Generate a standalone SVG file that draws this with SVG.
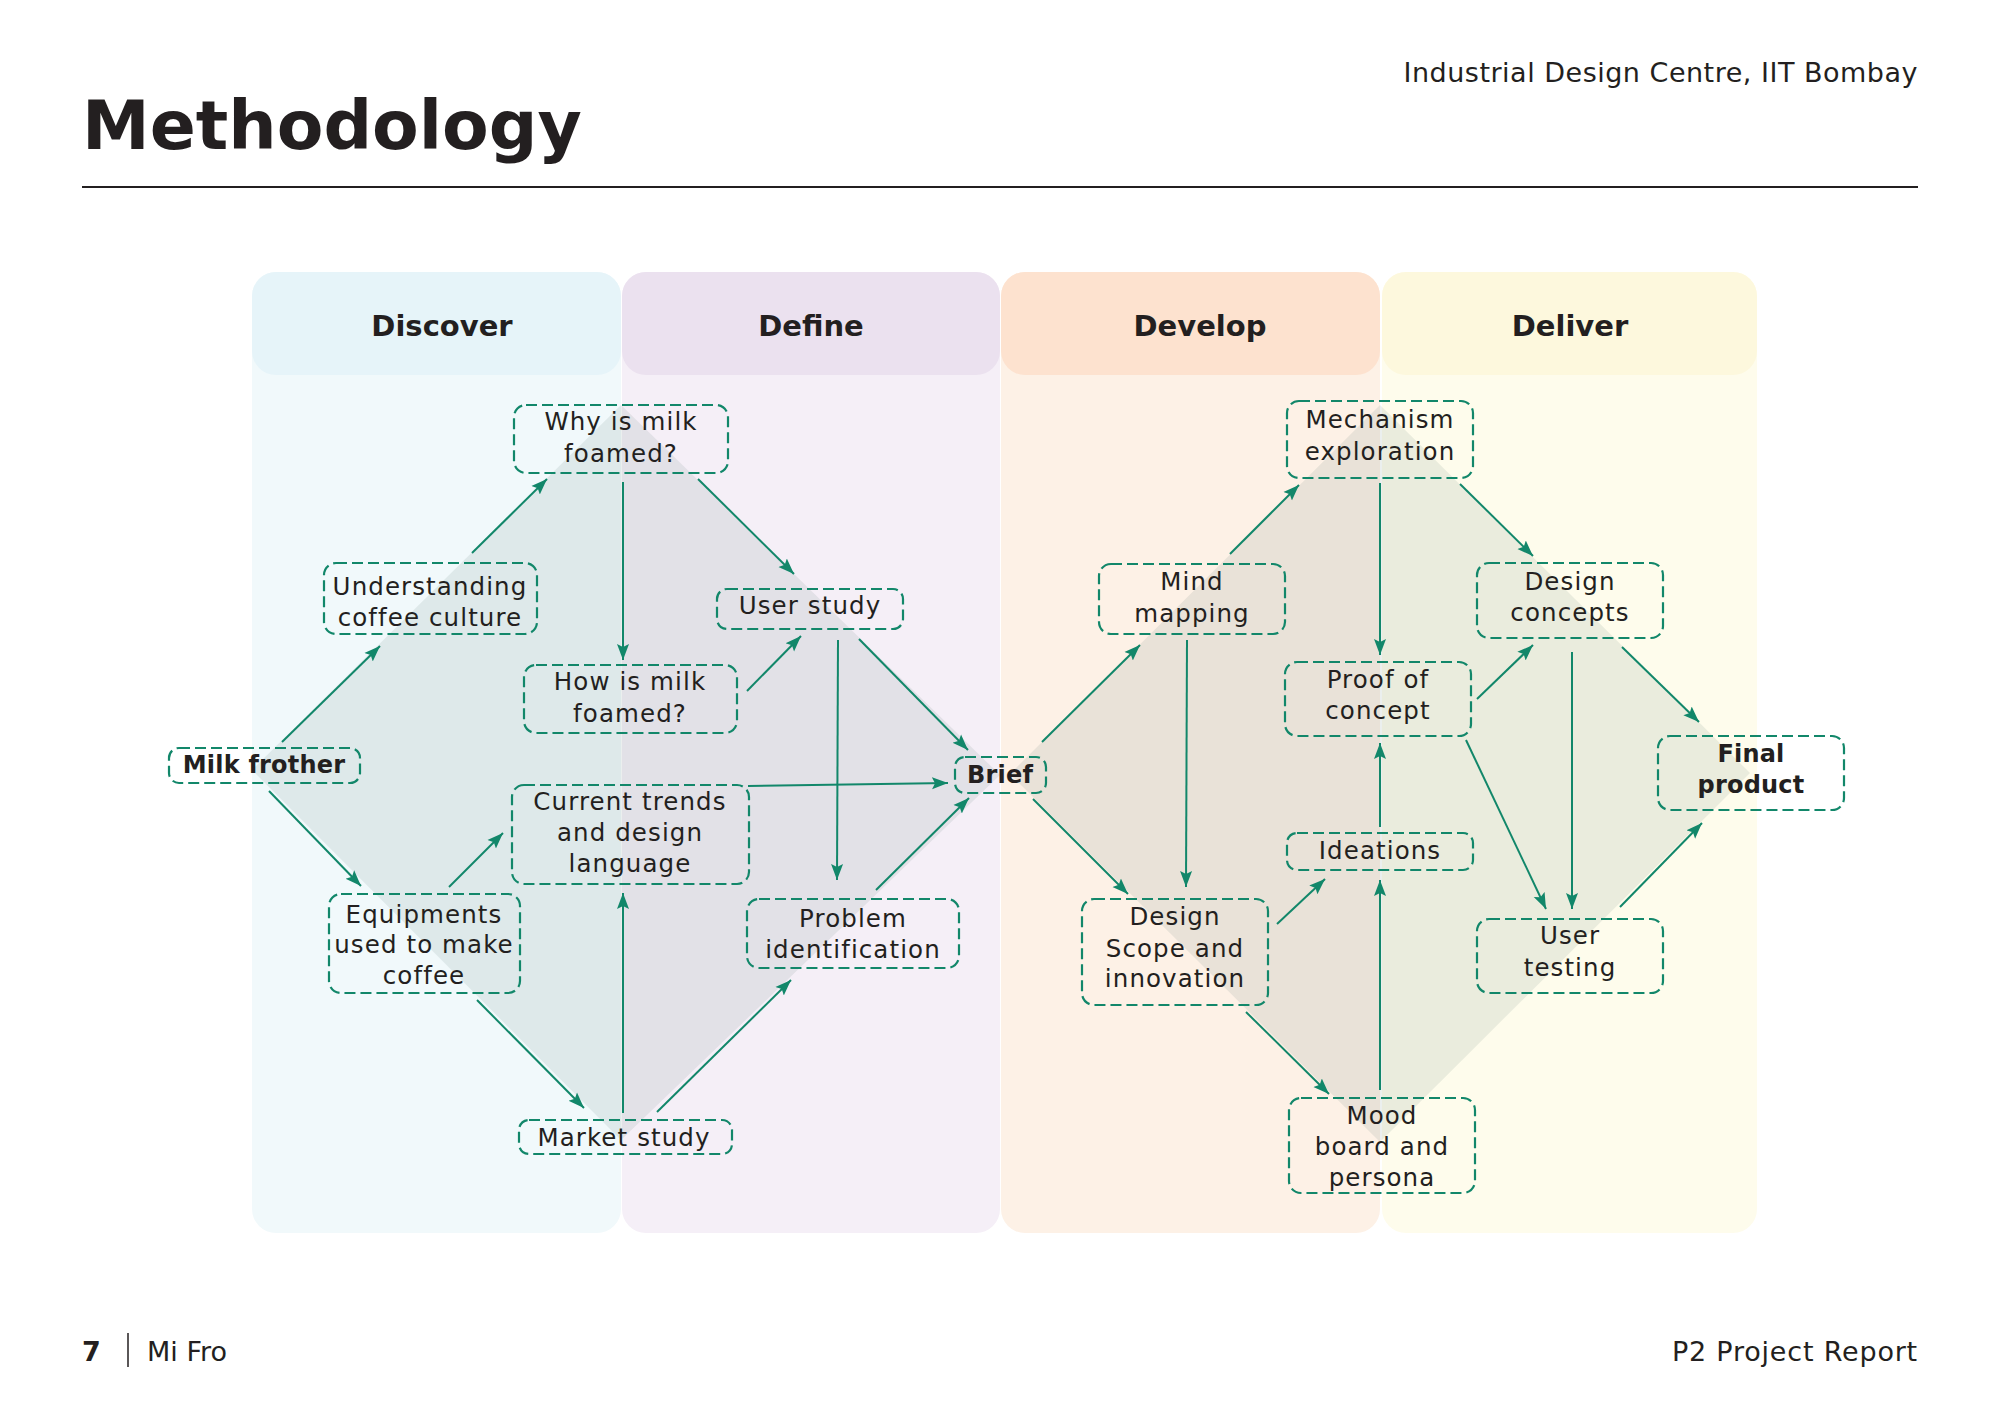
<svg xmlns="http://www.w3.org/2000/svg" width="2000" height="1414" viewBox="0 0 2000 1414">
<style>
.t{font-family:"DejaVu Sans","Liberation Sans",sans-serif;fill:#231f20}
.lbl{font-size:24.5px;letter-spacing:1.1px;text-anchor:middle}
.b{font-weight:bold;font-size:24px;letter-spacing:0.2px;text-anchor:middle}
.hd{font-weight:bold;font-size:29px;text-anchor:middle}
.box{fill:none;stroke:#12876a;stroke-width:2.2;stroke-dasharray:11 5}
.conn line{stroke:#12876a;stroke-width:2;marker-end:url(#arr)}
.shade{fill:#64827a;fill-opacity:0.13}
</style>
<defs>
<marker id="arr" markerUnits="userSpaceOnUse" markerWidth="18" markerHeight="14" refX="16" refY="6.5" orient="auto">
<path d="M0,0.5 L16,6.5 L0,12.5 L3,6.5 z" fill="#12876a"/>
</marker>
</defs>
<rect x="0" y="0" width="2000" height="1414" fill="#ffffff"/>

<!-- page header -->
<text class="t" x="82" y="149" font-size="68" font-weight="bold">Methodology</text>
<text class="t" x="1918" y="82" font-size="27" letter-spacing="0.5" text-anchor="end">Industrial Design Centre, IIT Bombay</text>
<line x1="82" y1="187" x2="1918" y2="187" stroke="#231f20" stroke-width="2"/>

<!-- columns -->
<g id="col-discover">
<rect x="252" y="272" width="369" height="961" rx="24" fill="#f1f9fb"/>
<rect x="252" y="272" width="369" height="103" rx="24" fill="#e6f4f9"/>
<text class="t hd" x="442" y="336">Discover</text>
</g>
<g id="col-define">
<rect x="622" y="272" width="378" height="961" rx="24" fill="#f5eff7"/>
<rect x="622" y="272" width="378" height="103" rx="24" fill="#ebe1ef"/>
<text class="t hd" x="811" y="336">Define</text>
</g>
<g id="col-develop">
<rect x="1001" y="272" width="379" height="961" rx="24" fill="#fdf1e6"/>
<rect x="1001" y="272" width="379" height="103" rx="24" fill="#fde2cf"/>
<text class="t hd" x="1200" y="336">Develop</text>
</g>
<g id="col-deliver">
<rect x="1382" y="272" width="375" height="961" rx="24" fill="#fefcec"/>
<rect x="1382" y="272" width="375" height="103" rx="24" fill="#fdf8dd"/>
<text class="t hd" x="1570" y="336">Deliver</text>
</g>

<!-- shaded diamonds -->
<polygon class="shade" points="252,770 621,405 1000,775 621,1140"/>
<polygon class="shade" points="1010,774 1380,405 1750,773 1380,1142"/>

<!-- connectors -->
<g id="connectors" class="conn">
<line x1="282" y1="742" x2="380" y2="646"/>
<line x1="472" y1="553" x2="547" y2="479"/>
<line x1="623" y1="482" x2="623" y2="660"/>
<line x1="698" y1="479" x2="794" y2="574"/>
<line x1="747" y1="691" x2="801" y2="636"/>
<line x1="859" y1="639" x2="968" y2="750"/>
<line x1="838" y1="640" x2="837" y2="880"/>
<line x1="748" y1="786" x2="948" y2="783"/>
<line x1="876" y1="890" x2="969" y2="798"/>
<line x1="269" y1="791" x2="361" y2="886"/>
<line x1="449" y1="887" x2="503" y2="833"/>
<line x1="477" y1="1000" x2="584" y2="1108"/>
<line x1="623" y1="1113" x2="623" y2="893"/>
<line x1="657" y1="1112" x2="791" y2="980"/>
<line x1="1042" y1="742" x2="1140" y2="645"/>
<line x1="1230" y1="554" x2="1299" y2="485"/>
<line x1="1380" y1="483" x2="1380" y2="655"/>
<line x1="1460" y1="484" x2="1533" y2="556"/>
<line x1="1477" y1="699" x2="1533" y2="645"/>
<line x1="1622" y1="647" x2="1699" y2="722"/>
<line x1="1572" y1="652" x2="1572" y2="909"/>
<line x1="1466" y1="740" x2="1546" y2="909"/>
<line x1="1620" y1="907" x2="1702" y2="823"/>
<line x1="1187" y1="640" x2="1186" y2="887"/>
<line x1="1033" y1="799" x2="1128" y2="894"/>
<line x1="1277" y1="924" x2="1325" y2="879"/>
<line x1="1380" y1="827" x2="1380" y2="743"/>
<line x1="1380" y1="1090" x2="1380" y2="880"/>
<line x1="1246" y1="1012" x2="1329" y2="1094"/>
</g>

<!-- nodes -->
<g id="n-why"><rect class="box" x="514" y="405" width="214" height="68" rx="12"/>
<text class="t lbl" x="621" y="430">Why is milk</text><text class="t lbl" x="621" y="462">foamed?</text></g>
<g id="n-understanding"><rect class="box" x="324" y="563" width="213" height="71" rx="12"/>
<text class="t lbl" x="430" y="595">Understanding</text><text class="t lbl" x="430" y="626">coffee culture</text></g>
<g id="n-how"><rect class="box" x="524" y="665" width="213" height="68" rx="12"/>
<text class="t lbl" x="630" y="690">How is milk</text><text class="t lbl" x="630" y="722">foamed?</text></g>
<g id="n-milk"><rect class="box" x="169" y="748" width="191" height="35" rx="10"/>
<text class="t b" x="264" y="773">Milk frother</text></g>
<g id="n-trends"><rect class="box" x="512" y="785" width="237" height="99" rx="12"/>
<text class="t lbl" x="630" y="810">Current trends</text><text class="t lbl" x="630" y="841">and design</text><text class="t lbl" x="630" y="872">language</text></g>
<g id="n-equip"><rect class="box" x="329" y="894" width="191" height="99" rx="12"/>
<text class="t lbl" x="424" y="923">Equipments</text><text class="t lbl" x="424" y="953">used to make</text><text class="t lbl" x="424" y="984">coffee</text></g>
<g id="n-market"><rect class="box" x="519" y="1120" width="213" height="34" rx="10"/>
<text class="t lbl" x="624" y="1146">Market study</text></g>
<g id="n-userstudy"><rect class="box" x="717" y="589" width="186" height="40" rx="10"/>
<text class="t lbl" x="810" y="614">User study</text></g>
<g id="n-problem"><rect class="box" x="747" y="899" width="212" height="69" rx="12"/>
<text class="t lbl" x="853" y="927">Problem</text><text class="t lbl" x="853" y="958">identification</text></g>
<g id="n-brief"><rect class="box" x="955" y="757" width="91" height="36" rx="10"/>
<text class="t b" x="1000" y="783">Brief</text></g>
<g id="n-mind"><rect class="box" x="1099" y="564" width="186" height="70" rx="12"/>
<text class="t lbl" x="1192" y="590">Mind</text><text class="t lbl" x="1192" y="622">mapping</text></g>
<g id="n-mechanism"><rect class="box" x="1287" y="401" width="186" height="77" rx="12"/>
<text class="t lbl" x="1380" y="428">Mechanism</text><text class="t lbl" x="1380" y="460">exploration</text></g>
<g id="n-proof"><rect class="box" x="1285" y="662" width="186" height="74" rx="12"/>
<text class="t lbl" x="1378" y="688">Proof of</text><text class="t lbl" x="1378" y="719">concept</text></g>
<g id="n-concepts"><rect class="box" x="1477" y="563" width="186" height="75" rx="12"/>
<text class="t lbl" x="1570" y="590">Design</text><text class="t lbl" x="1570" y="621">concepts</text></g>
<g id="n-final"><rect class="box" x="1658" y="736" width="186" height="74" rx="12"/>
<text class="t b" x="1751" y="762">Final</text><text class="t b" x="1751" y="793">product</text></g>
<g id="n-ideations"><rect class="box" x="1287" y="833" width="186" height="37" rx="10"/>
<text class="t lbl" x="1380" y="859">Ideations</text></g>
<g id="n-scope"><rect class="box" x="1082" y="899" width="186" height="106" rx="12"/>
<text class="t lbl" x="1175" y="925">Design</text><text class="t lbl" x="1175" y="957">Scope and</text><text class="t lbl" x="1175" y="987">innovation</text></g>
<g id="n-mood"><rect class="box" x="1289" y="1098" width="186" height="95" rx="12"/>
<text class="t lbl" x="1382" y="1124">Mood</text><text class="t lbl" x="1382" y="1155">board and</text><text class="t lbl" x="1382" y="1186">persona</text></g>
<g id="n-testing"><rect class="box" x="1477" y="919" width="186" height="74" rx="12"/>
<text class="t lbl" x="1570" y="944">User</text><text class="t lbl" x="1570" y="976">testing</text></g>

<!-- footer -->
<text class="t" x="82" y="1361" font-size="27" font-weight="bold">7</text>
<line x1="128" y1="1333" x2="128" y2="1367" stroke="#231f20" stroke-width="1.5"/>
<text class="t" x="147" y="1361" font-size="27">Mi Fro</text>
<text class="t" x="1918" y="1361" font-size="27" letter-spacing="0.8" text-anchor="end">P2 Project Report</text>
</svg>
